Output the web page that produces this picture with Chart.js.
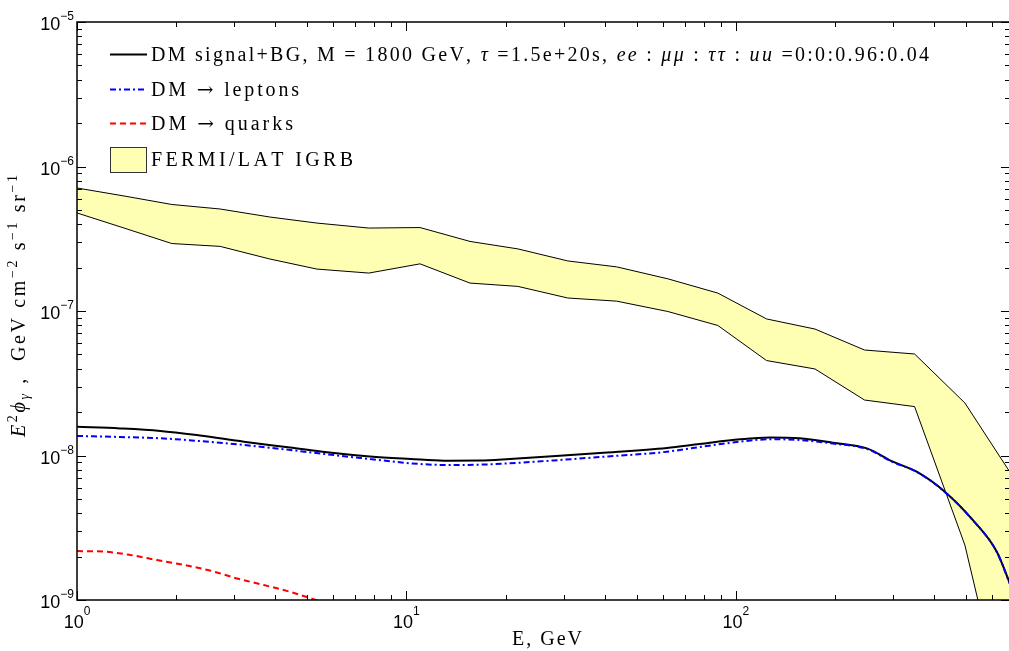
<!DOCTYPE html>
<html>
<head>
<meta charset="utf-8">
<script src="https://cdn.jsdelivr.net/npm/chart.js@4.4.0/dist/chart.umd.min.js"></script>
<style>
  html, body { margin: 0; padding: 0; background: #fff; overflow: hidden; }
  #wrap { width: 1012px; height: 651px; }
</style>
</head>
<body>
<div id="wrap"><canvas id="chart" width="1012" height="651"></canvas></div>
<script>
// energies in GeV, fluxes in GeV cm^-2 s^-1 sr^-1
const fermiE = [1.0, 1.39, 1.94, 2.72, 3.85, 5.35, 7.69, 11.0, 15.6, 21.8, 30.9, 43.5, 62.2, 88.2, 124, 174, 246, 349, 496, 698];
const fermiUpper = [7.10e-7, 6.25e-7, 5.46e-7, 5.08e-7, 4.47e-7, 4.06e-7, 3.75e-7, 3.78e-7, 3.03e-7, 2.69e-7, 2.22e-7, 2.02e-7, 1.67e-7, 1.33e-7, 8.81e-8, 7.50e-8, 5.37e-8, 5.04e-8, 2.31e-8, 6.99e-9];
const fermiLower = [4.77e-7, 3.75e-7, 2.93e-7, 2.80e-7, 2.29e-7, 1.95e-7, 1.83e-7, 2.12e-7, 1.56e-7, 1.48e-7, 1.23e-7, 1.17e-7, 9.92e-8, 7.94e-8, 4.54e-8, 3.97e-8, 2.42e-8, 2.18e-8, 2.40e-9, 9.0e-11];

const curveE = [1.0, 1.35, 1.79, 2.36, 3.21, 4.43, 5.74, 7.75, 10.3, 13.0, 16.7, 20.6, 29.2, 38.7, 61.8, 77.7, 103, 127, 156, 197, 250, 300, 354, 431, 524, 620, 688];
const totalFlux = [1.58e-8, 1.54e-8, 1.48e-8, 1.375e-8, 1.246e-8, 1.136e-8, 1.052e-8, 9.84e-9, 9.46e-9, 9.21e-9, 9.23e-9, 9.46e-9, 9.97e-9, 1.041e-8, 1.127e-8, 1.201e-8, 1.295e-8, 1.333e-8, 1.315e-8, 1.226e-8, 1.121e-8, 9.06e-9, 7.73e-9, 5.62e-9, 3.58e-9, 2.16e-9, 1.21e-9];
const leptonFlux = [1.365e-8, 1.343e-8, 1.315e-8, 1.259e-8, 1.182e-8, 1.092e-8, 1.019e-8, 9.46e-9, 8.83e-9, 8.60e-9, 8.64e-9, 8.83e-9, 9.31e-9, 9.76e-9, 1.062e-8, 1.145e-8, 1.246e-8, 1.295e-8, 1.281e-8, 1.211e-8, 1.11e-8, 9.0e-9, 7.7e-9, 5.6e-9, 3.57e-9, 2.15e-9, 1.2e-9];

const quarkE = [1.0, 1.21, 1.45, 1.75, 2.11, 2.53, 3.06, 3.69, 4.43, 5.24, 6.28];
const quarkFlux = [2.18e-9, 2.16e-9, 2.05e-9, 1.89e-9, 1.75e-9, 1.60e-9, 1.41e-9, 1.27e-9, 1.14e-9, 1.01e-9, 8.8e-10];

const xMajorTicks = [1, 10, 100];
const xTickExp = ['0', '1', '2'];
const yMajorTicks = [1e-9, 1e-8, 1e-7, 1e-6, 1e-5];
const yTickExp = ['\u22129', '\u22128', '\u22127', '\u22126', '\u22125'];

const bandColor = 'rgb(255,255,180)';
const SERIF = "'Liberation Serif', 'Times New Roman', serif";
const SANS = "'Liberation Sans', Arial, sans-serif";
const ARROW_FONT = "'DejaVu Serif', serif";

// legend entries (segments: t = text, i = italic, f = other font)
const legendEntries = [
  { kind: 'line', color: '#000', dash: [], segs: [
    { t: 'DM signal+BG, M = 1800 GeV, ' }, { t: '\u03c4', i: 1 }, { t: ' =1.5e+20s, ' },
    { t: 'ee', i: 1 }, { t: ' : ' }, { t: '\u03bc\u03bc', i: 1 }, { t: ' : ' },
    { t: '\u03c4\u03c4', i: 1 }, { t: ' : ' }, { t: 'uu', i: 1 }, { t: ' =0:0:0.96:0.04' }], width: 778 },
  { kind: 'line', color: '#0000ff', dash: [6, 3, 2, 3], segs: [{ t: 'DM ' }, { t: '\u2192', f: ARROW_FONT }, { t: ' leptons' }], width: 148 },
  { kind: 'line', color: '#ff0000', dash: [6, 4], segs: [{ t: 'DM ' }, { t: '\u2192', f: ARROW_FONT }, { t: ' quarks' }], width: 142 },
  { kind: 'box', color: bandColor, segs: [{ t: 'FERMI/LAT IGRB' }], width: 202 }
];
const legendBaselines = [61, 96, 130, 166];

const yTitle = [{ t: 'E', i: 1 }, { t: '2', s: 'sup' }, { t: '\u03d5', i: 1 }, { t: '\u03b3', i: 1, s: 'sub' },
  { t: ' ,  GeV cm' }, { t: '\u22122', s: 'sup' }, { t: ' s' }, { t: '\u22121', s: 'sup' }, { t: ' sr' }, { t: '\u22121', s: 'sup' }];
const xTitle = [{ t: 'E, GeV' }];

function segFont(seg, size) {
  const s = seg.s ? Math.round(size * 0.7) : size;
  return (seg.i ? 'italic ' : '') + s + 'px ' + (seg.f || SERIF);
}

function drawRich(ctx, segs, x, y, size, target) {
  let w = 0, n = 0;
  segs.forEach(seg => {
    ctx.font = segFont(seg, size);
    for (const ch of seg.t) { w += ctx.measureText(ch).width; n++; }
  });
  const ls = target ? (target - w) / (n - 1) : 0;
  let cx = x;
  segs.forEach(seg => {
    ctx.font = segFont(seg, size);
    const dy = seg.s === 'sup' ? -size * 0.42 : seg.s === 'sub' ? size * 0.22 : 0;
    for (const ch of seg.t) {
      ctx.fillText(ch, cx, y + dy);
      cx += ctx.measureText(ch).width + ls;
    }
  });
}

const framePlugin = {
  id: 'frame',
  afterDraw(chart) {
    const ctx = chart.ctx, a = chart.chartArea;
    const xs = chart.scales.x, ys = chart.scales.y;
    ctx.save();
    ctx.fillStyle = '#000';
    ctx.strokeStyle = '#000';

    // inward ticks on all four sides
    ctx.lineWidth = 1;
    ctx.beginPath();
    for (let d = 0; d <= 3; d++) {
      for (let m = 1; m <= 9; m++) {
        const v = m * Math.pow(10, d);
        if (v < xs.min || v > xs.max) continue;
        const px = Math.round(xs.getPixelForValue(v)) + 0.5;
        const len = m === 1 ? 9 : 5;
        ctx.moveTo(px, a.bottom); ctx.lineTo(px, a.bottom - len);
        ctx.moveTo(px, a.top); ctx.lineTo(px, a.top + len);
      }
    }
    for (let e = -9; e <= -5; e++) {
      for (let m = 1; m <= 9; m++) {
        const v = m * Math.pow(10, e);
        if (v < ys.min || v > ys.max * 1.0001) continue;
        const py = Math.round(ys.getPixelForValue(v)) + 0.5;
        const len = m === 1 ? 9 : 5;
        ctx.moveTo(a.left, py); ctx.lineTo(a.left + len, py);
        ctx.moveTo(a.right, py); ctx.lineTo(a.right - len, py);
      }
    }
    ctx.stroke();

    // frame
    ctx.lineWidth = 1.5;
    ctx.strokeRect(a.left, a.top, a.right - a.left, a.bottom - a.top);

    // tick labels
    ctx.textBaseline = 'alphabetic';
    ctx.textAlign = 'left';
    xMajorTicks.forEach((v, i) => {
      const px = xs.getPixelForValue(v);
      ctx.font = '18px ' + SANS;
      const w1 = ctx.measureText('10').width;
      ctx.font = '12px ' + SANS;
      const w2 = ctx.measureText(xTickExp[i]).width;
      const x0 = px - (w1 + w2) / 2;
      ctx.font = '18px ' + SANS;
      ctx.fillText('10', x0, a.bottom + 28);
      ctx.font = '12px ' + SANS;
      ctx.fillText(xTickExp[i], x0 + w1, a.bottom + 15);
    });
    yMajorTicks.forEach((v, i) => {
      const py = ys.getPixelForValue(v);
      ctx.font = '12px ' + SANS;
      const w2 = ctx.measureText(yTickExp[i]).width;
      ctx.font = '18px ' + SANS;
      const w1 = ctx.measureText('10').width;
      const x0 = a.left - 3 - w2 - w1;
      ctx.fillText('10', x0, py + 8);
      ctx.font = '12px ' + SANS;
      ctx.fillText(yTickExp[i], x0 + w1, py - 2);
    });

    // axis titles
    drawRich(ctx, xTitle, 512, 645, 20, 70);
    ctx.save();
    ctx.translate(25, 437);
    ctx.rotate(-Math.PI / 2);
    drawRich(ctx, yTitle, 0, 0, 20, 262);
    ctx.restore();

    // legend
    legendEntries.forEach((entry, i) => {
      const base = legendBaselines[i];
      if (entry.kind === 'line') {
        ctx.save();
        ctx.strokeStyle = entry.color;
        ctx.lineWidth = 2;
        ctx.setLineDash(entry.dash);
        ctx.beginPath();
        ctx.moveTo(110, base - 6.5);
        ctx.lineTo(147, base - 6.5);
        ctx.stroke();
        ctx.restore();
      } else {
        ctx.fillStyle = entry.color;
        ctx.fillRect(110, 147, 37, 26);
        ctx.strokeStyle = '#333';
        ctx.lineWidth = 1;
        ctx.strokeRect(110.5, 147.5, 36, 25);
        ctx.fillStyle = '#000';
      }
      drawRich(ctx, entry.segs, 151, base, 20, entry.width);
    });
    ctx.restore();
  }
};

const pts = (xv, yv) => xv.map((x, i) => ({ x: x, y: yv[i] }));

// dataset 0 is drawn last (on top): leptons over the total curve, as in the figure
new Chart(document.getElementById('chart'), {
  type: 'line',
  data: {
    datasets: [
      { label: 'DM -> leptons', data: pts(curveE, leptonFlux), borderColor: '#0000ff', borderWidth: 2,
        borderDash: [6, 3, 2, 3], pointRadius: 0, cubicInterpolationMode: 'monotone', fill: false },
      { label: 'DM signal+BG', data: pts(curveE, totalFlux), borderColor: '#000', borderWidth: 2,
        pointRadius: 0, cubicInterpolationMode: 'monotone', fill: false },
      { label: 'DM -> quarks', data: pts(quarkE, quarkFlux), borderColor: '#ff0000', borderWidth: 2,
        borderDash: [6, 4], pointRadius: 0, cubicInterpolationMode: 'monotone', fill: false },
      { label: 'FERMI upper', data: pts(fermiE, fermiUpper), borderColor: '#000', borderWidth: 1,
        backgroundColor: bandColor, pointRadius: 0, fill: '+1' },
      { label: 'FERMI lower', data: pts(fermiE, fermiLower), borderColor: '#000', borderWidth: 1,
        pointRadius: 0, fill: false }
    ]
  },
  options: {
    responsive: false,
    animation: false,
    layout: { padding: { left: 77, top: 22, right: 2, bottom: 51 } },
    scales: {
      x: { type: 'logarithmic', min: 1, max: 680, display: false },
      y: { type: 'logarithmic', min: 1e-9, max: 1e-5, display: false }
    },
    plugins: {
      legend: { display: false },
      tooltip: { enabled: false },
      filler: { drawTime: 'beforeDatasetsDraw' }
    }
  },
  plugins: [framePlugin]
});
</script>
</body>
</html>
